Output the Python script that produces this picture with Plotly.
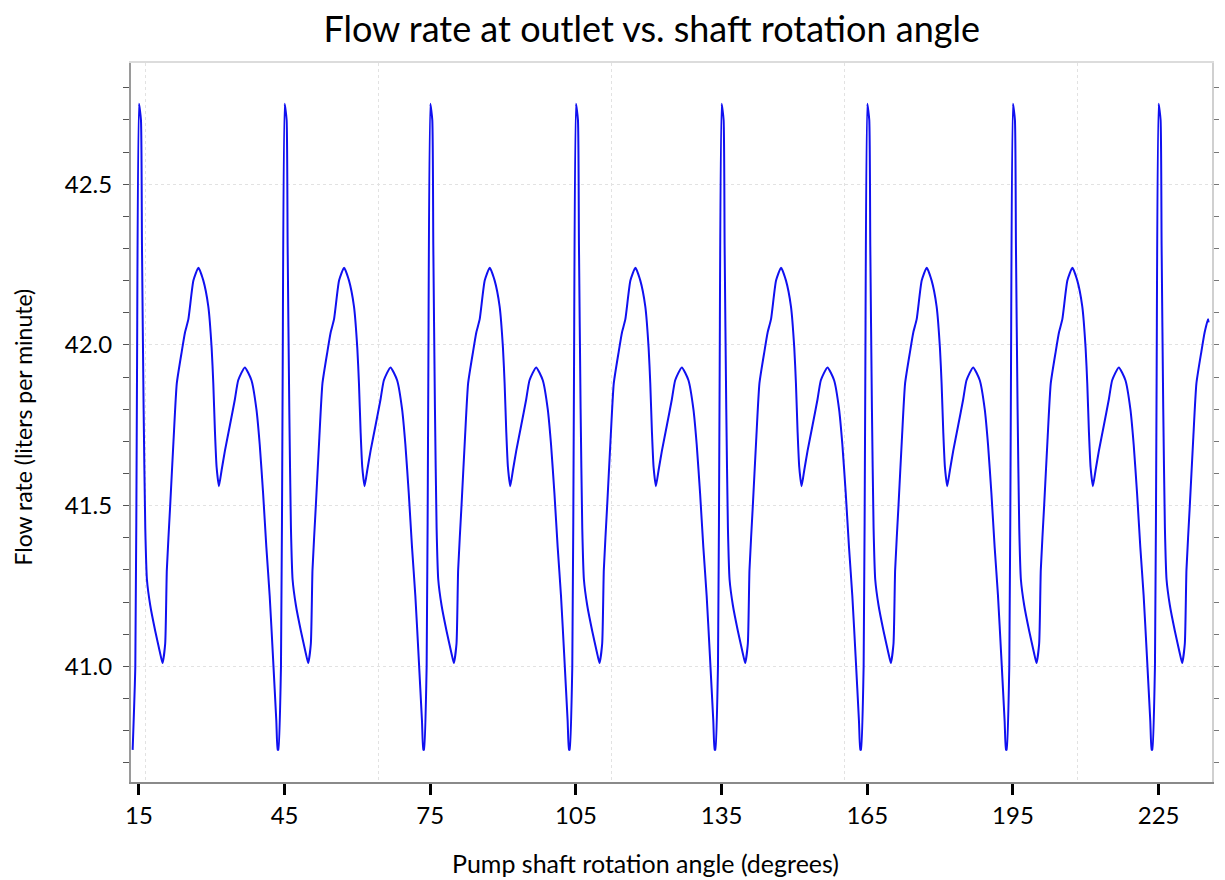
import plotly.graph_objects as go

# Peak angles (degrees) of each pump cycle
cycle_peaks = [15, 45, 75, 105, 135, 165, 195, 225]
# One cycle's profile: angle offset from the peak (deg), flow rate (L/min)
cycle_offset = [-1.30, -0.75, -0.41, 0.00, 0.41, 0.62, 0.96, 1.30, 1.64, 2.32, 3.35, 4.37,
                4.85, 5.40, 5.74, 6.43, 7.11, 7.79, 8.82, 9.50, 10.18, 11.21, 12.24, 13.26,
                14.28, 14.97, 15.31, 15.65, 15.99, 16.47, 17.02, 17.70, 18.73, 19.75, 20.44,
                21.80, 23.17, 24.19, 24.87, 25.56, 26.24, 26.92, 27.60, 28.29, 28.57]
cycle_flow = [40.74, 41.00, 41.88, 42.75, 42.70, 42.31, 41.80, 41.43, 41.27, 41.19, 41.11, 41.04,
              41.01, 41.07, 41.30, 41.50, 41.70, 41.88, 41.98, 42.04, 42.08, 42.20, 42.24, 42.20,
              42.12, 41.99, 41.88, 41.73, 41.62, 41.56, 41.61, 41.67, 41.75, 41.83, 41.89,
              41.93, 41.89, 41.80, 41.69, 41.54, 41.37, 41.22, 41.03, 40.83, 40.74]
end_angle = 235.3  # last sample angle
x_tick_vals = [15, 45, 75, 105, 135, 165, 195, 225]
y_tick_vals = [41.0, 41.5, 42.0, 42.5]
x_grid_vals = [16.4, 64.4, 112.4, 160.4, 208.4]

angle, flow = [], []
for p in cycle_peaks:
    for o, v in zip(cycle_offset, cycle_flow):
        a = p + o
        if a <= end_angle:
            angle.append(round(a, 3))
            flow.append(v)
angle.append(end_angle)
flow.append(42.07)

FONT = "Lato"
fig = go.Figure()
fig.add_trace(go.Scatter(x=angle, y=flow, mode="lines",
                         line=dict(color="#1010f0", width=2, shape="spline", smoothing=0.5),
                         showlegend=False))

fig.update_layout(
    width=1225, height=880,
    margin=dict(l=131, r=8, t=63, b=98),
    paper_bgcolor="white", plot_bgcolor="white",
    font=dict(family=FONT, color="black"),
    title=dict(text="Flow rate at outlet vs. shaft rotation angle",
               x=0.532, xanchor="center", y=0.967, yanchor="middle",
               font=dict(family=FONT, size=36, color="black")),
    xaxis=dict(range=[13.36, 236.0], tickvals=x_tick_vals, ticks="outside",
               ticklen=11, tickwidth=3, tickcolor="black",
               showline=True, linecolor="#8a8a8a", linewidth=2,
               showgrid=False, zeroline=False,
               tickfont=dict(size=24, family=FONT)),
    xaxis2=dict(overlaying="x", matches="x", side="top", tickvals=x_grid_vals,
                showticklabels=False, ticks="", showgrid=True, gridcolor="#e2e2e2",
                griddash="dot", gridwidth=1, showline=True, linecolor="#dcdcdc",
                linewidth=2, zeroline=False),
    yaxis=dict(range=[40.64, 42.877], tickvals=y_tick_vals, tickformat=".1f",
               ticks="outside", ticklen=6, tickwidth=1, tickcolor="#555",
               ticklabelstandoff=6,
               minor=dict(dtick=0.1, tick0=40.0, ticks="outside", ticklen=6,
                          tickcolor="#555", showgrid=False),
               showline=True, linecolor="#9a9a9a", linewidth=2,
               showgrid=True, gridcolor="#e2e2e2", griddash="dot", gridwidth=1,
               zeroline=False, tickfont=dict(size=24, family=FONT)),
    yaxis2=dict(overlaying="y", matches="y", side="right", showticklabels=False,
                tickvals=[], ticks="outside",
                minor=dict(dtick=0.1, tick0=40.0, ticks="outside", ticklen=5,
                           tickcolor="#777", showgrid=False),
                showline=True, linecolor="#d0d0d0", linewidth=2,
                showgrid=False, zeroline=False),
    annotations=[
        dict(text="Pump shaft rotation angle (degrees)", xref="paper", yref="paper",
             x=(648 - 131) / 1086, y=-0.112, xanchor="center", yanchor="middle",
             showarrow=False, font=dict(size=25, family=FONT)),
        dict(text="Flow rate (liters per minute)", xref="paper", yref="paper",
             x=(22 - 131) / 1086, y=(782 - 427) / 719, xanchor="center", yanchor="middle",
             textangle=-90, showarrow=False, font=dict(size=23, family=FONT)),
    ],
)
fig.add_trace(go.Scatter(x=[angle[0]], y=[flow[0]], xaxis="x2", yaxis="y2",
                         mode="markers", marker=dict(opacity=0), showlegend=False,
                         hoverinfo="skip"))
fig.write_html("out.html")
